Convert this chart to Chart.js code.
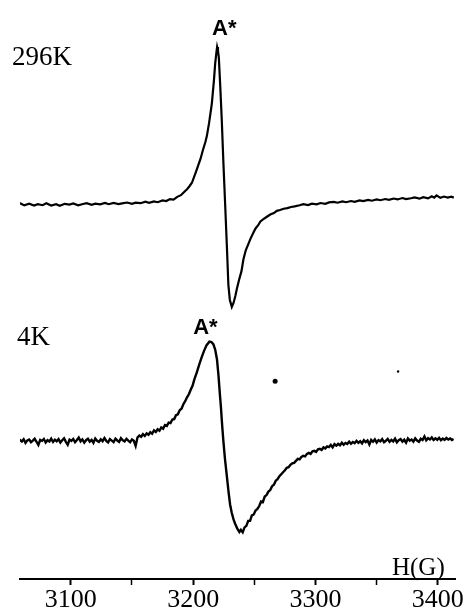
<!DOCTYPE html>
<html>
<head>
<meta charset="utf-8">
<script src="https://cdn.jsdelivr.net/npm/chart.js@4/dist/chart.umd.min.js"></script>
<style>
  html, body { margin: 0; padding: 0; background: #fff; }
  #wrap { width: 471px; height: 615px; position: relative; }
</style>
</head>
<body>
<div id="wrap"><canvas id="epr"></canvas></div>
<script>
// --- data (field in gauss, signal in arbitrary units) ---
var field296 = [3055,3059,3062,3066,3070,3073,3077,3080,3084,3088,3091,3095,3099,3102,3106,3110,3113,3117,3120,3124,
  3128,3131,3135,3139,3142,3146,3150,3153,3157,3161,3164,3168,3171,3175,3178,3181,3184,3187,3190,3192,
  3195,3197,3199,3202,3204,3206,3208,3210,3211.2,3213,3215.3,3217,3218,3219,3219.6,3220.3,3221,3222.2,3223.4,3224.8,
  3226.1,3227.5,3228.8,3230,3231.6,3233,3234.5,3235.7,3237.5,3239.5,3241.1,3243,3245,3247,3249.3,3251,3253,3255,3257.4,3260,
  3263,3266,3268.4,3271,3274,3277,3280,3283,3287,3290,3294,3297,3301,3304,3308,3311,3315,3318,3322,3325,
  3329,3332,3336,3339,3343,3346,3350,3353,3357,3360,3364,3367,3371,3374,3378,3381,3385,3388,3392,3395,
  3397,3399,3402,3405,3408,3411,3413];
var signal296 = [0,1.2,-0.8,0.9,-1.0,0.5,-0.6,1.3,-0.9,0.4,-1.2,0.8,0,1.1,-0.7,0.6,1.4,-0.3,0.9,0.2,
  1.6,0.4,1.8,0.6,1.2,2.1,0.8,2.0,1.4,2.9,1.7,3.2,2.4,4.2,3.6,5.6,5.0,7.8,9.5,12,
  15.5,18.5,22,32,39,46,55,63,69,82,102,125,142,153,158.7,155,148,118,85,40,
  2,-40,-81,-96,-103,-99,-92,-85,-76,-67,-55,-46,-40,-34,-28,-24,-21,-17,-14.7,-12.5,
  -10,-8.5,-6.3,-5.5,-4.2,-3.5,-2.4,-1.8,-0.7,0.5,-0.4,1.0,0.3,1.6,0.8,2.2,2.7,1.9,3.2,2.4,
  3.6,2.8,4.3,3.5,4.7,3.9,5.2,4.4,5.6,4.8,6.1,5.2,6.6,5.5,6.4,7.2,6.0,7.5,6.3,8.4,
  7.0,9.3,6.8,8.1,7.0,7.9,7.0];

var field4 = [
  3057,3058.5,3060,3061.5,3063,3064.5,3066,3067.5,3069,3070.5,3072,3073.5,3075,3076.5,3078,3079.5,3081,3082.5,3084,3085.5,
  3087,3088.5,3090,3091.5,3093,3094.5,3096,3097.5,3099,3100.5,3102,3103.5,3105,3106.5,3108,3109.5,3111,3112.5,3114,3115.5,
  3117,3118.5,3120,3121.5,3123,3124.5,3126,3127.5,3129,3130.5,3132,3133.5,3135,3136.5,3138,3139.5,3141,3142.5,3144,3145.5,
  3147,3148.5,3150,3151.5,3153,3154.5,3156,3157.5,3159,3160.5,3162,3163.5,3165,3166.5,3168,3169.5,3171,3172.5,3174,3175.5,
  3177,3178.5,3180,3181.5,3183,3184.5,3186,3187.5,3189,3190.5,3192,3193.5,3195,3196.5,3198,3199.5,3201,
  3203,3205,3207,3209,3211,3213.3,3215,3216.5,3218,3219.5,3220.7,3221.8,3222.7,3223.7,3224.7,3226,3227.5,3229,3230.2,3231.5,
  3233,3234.3,3236,3237.8,3239,3240.5,3242,
  3243.5,3245,3246.5,3248,3249.5,3251,3252.5,3254,3255.5,3257,3258.5,3260,3261.5,3263,3264.5,3266,3267.5,3269,3270.5,3272,
  3273.5,3275,3276.5,3278,3279.5,3281,3282.5,3284,3285.5,3287,3288.5,3290,3291.5,3293,3294.5,3296,3297.5,3299,3300.5,3302,
  3303.5,3305,3306.5,3308,3309.5,3311,3312.5,3314,3315.5,3317,3318.5,3320,3321.5,3323,3324.5,3326,3327.5,3329,3330.5,3332,
  3333.5,3335,3336.5,3338,3339.5,3341,3342.5,3344,3345.5,3347,3348.5,3350,3351.5,3353,3354.5,3356,3357.5,3359,3360.5,3362,
  3363.5,3365,3366.5,3368,3369.5,3371,3372.5,3374,3375.5,3377,3378.5,3380,3381.5,3383,3384.5,3386,3387.5,3389,3390.5,3392,
  3393.5,3395,3396.5,3398,3399.5,3401,3402.5,3404,3405.5,3407,3408.5,3410,3411.5,3412.8];
var signal4 = [
  -1.5,1.0,-0.5,1.8,-2.0,0.6,1.5,-1.2,0.3,2.2,-0.8,-4.0,1.0,0.2,2.0,-1.5,0.8,-0.6,2.4,-1.0,
  1.2,-0.3,1.9,-1.6,0.7,2.6,-0.9,-3.8,1.4,0.1,2.0,-1.3,0.9,3.4,-0.4,1.5,-1.7,0.8,2.2,-0.6,
  1.1,-1.9,2.5,0.2,-1.0,1.7,-0.2,3.0,0.0,-1.4,1.9,0.4,-1.1,2.3,0.5,-0.9,2.8,0.7,-0.5,2.1,
  0.3,-1.2,1.6,0.2,-5.0,3.5,5.5,4.2,6.8,5.0,7.6,6.2,8.8,7.4,10.6,9.0,11.8,10.4,13.6,12.4,
  16.0,15.2,18.4,18.0,21.6,22.0,26.0,26.8,31.0,32.5,37.0,40.0,44.0,47.0,51.5,55.5,62.0,
  69,77,84.5,91,96.5,100,99.5,97.5,92,82,66,48,34,16,0,-18,-35,-52,-64,-72,
  -79,-83.3,-88,-91.7,-89.5,-92,-87,
  -85.5,-80.5,-80.5,-75,-74,-70,-68.5,-65.5,-61,-61.5,-56,-54.5,-51,-49.5,-45.5,-44,-40,-38.5,-35.5,-33.5,
  -31.5,-29.5,-27,-26.5,-24,-22.5,-22,-20,-18,-18.5,-16,-15,-15.5,-13,-12,-13,-10.5,-10,-11,-8.5,
  -8,-9,-6.5,-7.5,-5.5,-6.2,-4.0,-6.5,-3.2,-4.8,-3.0,-4.4,-1.8,-3.9,-2.0,-3.0,-0.6,-2.8,-1.0,-2.2,
  0.2,-1.9,-0.3,-2.4,0.8,-1.2,0.4,-3.5,1.0,-0.8,1.5,-1.6,0.9,-0.4,1.8,-1.3,0.2,2.0,-0.9,1.1,
  -0.5,2.3,-1.4,0.7,1.9,-0.6,1.2,-1.8,2.4,0.3,1.5,-0.7,2.6,0.4,-0.8,2.2,1.0,4.5,0.6,2.8,
  1.5,3.5,0.9,2.6,1.2,3.2,0.8,2.4,1.1,3.0,1.4,2.6,1.0,2.0];

// two small specks on the scan
var speckField = [3267, 3367.5];
var speckSignal = [199, 209];

var fieldTicks = [3100, 3150, 3200, 3250, 3300, 3350, 3400];
var tickLabels = ['3100', '', '3200', '', '3300', '', '3400'];

// vertical stacking of the two traces (baseline heights on the y scale)
var OFFSET_296 = 377;
var OFFSET_4 = 139;

var SERIF = '"Liberation Serif", "DejaVu Serif", serif';
var SANS = '"Liberation Sans", Arial, sans-serif';

var notes = [
  { text: '296K', x: 3052, y: 518, font: '27px ' + SERIF, align: 'left' },
  { text: 'A*',   x: 3225.5, y: 548, font: 'bold 22px ' + SANS, align: 'center' },
  { text: '4K',   x: 3056, y: 236, font: '27px ' + SERIF, align: 'left' },
  { text: 'A*',   x: 3210, y: 247, font: 'bold 22px ' + SANS, align: 'center' },
  { text: 'H(G)', x: 3362.5, y: 4, font: '25px ' + SERIF, align: 'left' }
];

function toPoints(xs, ys, off) {
  return xs.map(function(x, i) { return { x: x, y: ys[i] + off }; });
}

var notesPlugin = {
  id: 'notes',
  afterDraw: function(chart) {
    var ctx = chart.ctx, xs = chart.scales.x, ys = chart.scales.y;
    ctx.save();
    ctx.fillStyle = '#000';
    ctx.textBaseline = 'alphabetic';
    notes.forEach(function(n) {
      ctx.font = n.font;
      ctx.textAlign = n.align;
      ctx.fillText(n.text, xs.getPixelForValue(n.x), ys.getPixelForValue(n.y));
    });
    ctx.restore();
  }
};

new Chart(document.getElementById('epr'), {
  type: 'line',
  data: {
    datasets: [
      { label: '296K', data: toPoints(field296, signal296, OFFSET_296), borderColor: '#000', borderWidth: 2.2, pointRadius: 0, tension: 0 },
      { label: '4K', data: toPoints(field4, signal4, OFFSET_4), borderColor: '#000', borderWidth: 2.4, pointRadius: 0, tension: 0 },
      { label: 'speck', type: 'scatter', data: toPoints(speckField, speckSignal, 0), pointRadius: [2.5, 1.2],
        backgroundColor: '#000', borderWidth: 0 }
    ]
  },
  options: {
    responsive: true,
    maintainAspectRatio: false,
    animation: false,
    events: [],
    layout: { padding: { left: 20, right: 16, top: 0, bottom: 0 } },
    plugins: { legend: { display: false }, tooltip: { enabled: false } },
    scales: {
      x: {
        type: 'linear',
        min: 3058.5,
        max: 3414,
        afterBuildTicks: function(scale) {
          scale.ticks = fieldTicks.map(function(v) { return { value: v }; });
        },
        afterFit: function(scale) { scale.height = 36; },
        border: { display: true, color: '#000', width: 2 },
        grid: { drawOnChartArea: false, drawTicks: true, tickLength: 6, color: '#000',
          tickWidth: function(c) { return c.tick && c.tick.value % 100 === 0 ? 2 : 1.5; } },
        ticks: {
          autoSkip: false,
          maxRotation: 0,
          padding: 0,
          color: '#000',
          font: { family: SERIF, size: 26 },
          callback: function(v, i) { return tickLabels[i]; }
        }
      },
      y: { display: false, min: 0, max: 579 }
    }
  },
  plugins: [notesPlugin]
});
</script>
</body>
</html>
